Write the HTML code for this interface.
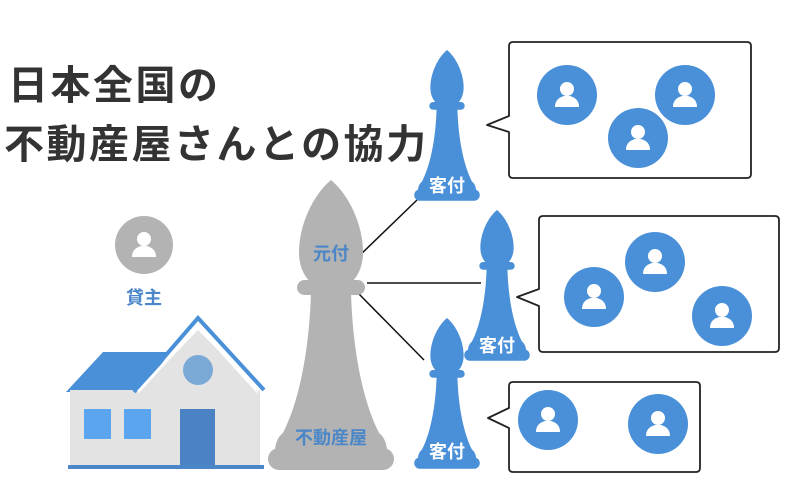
<!DOCTYPE html>
<html><head><meta charset="utf-8"><style>
html,body{margin:0;padding:0;background:#fff;}
svg{display:block;}
text{font-family:"Liberation Sans","Noto Sans CJK JP",sans-serif;font-weight:bold;}
</style></head><body>
<svg width="800" height="488" viewBox="0 0 800 488" xmlns="http://www.w3.org/2000/svg">
<defs>
<g id="bishop">
<path d="M0,0 C-18,15 -32,45 -32,72 C-32,90 -24,100 -18,104 L18,104 C24,100 32,90 32,72 C32,45 18,15 0,0 Z"/>
<rect x="-34" y="100" width="68" height="15" rx="7.5"/>
<path d="M-20,112 L20,112 C22,180 35,232 52,260 L-52,260 C-35,232 -22,180 -20,112Z"/>
<path d="M-56,272 C-56,256 -46,250 -40,250 L40,250 C46,250 56,256 56,272Z"/>
<rect x="-63" y="268" width="126" height="22" rx="11"/>
</g>
<g id="person">
<circle r="30" fill="#4a90d9"/>
<circle cx="0" cy="-6" r="7" fill="#fff"/>
<path d="M-12,12 C-12,4 -6,2 -3,1 L3,1 C6,2 12,4 12,12Z" fill="#fff"/>
</g>
</defs>

<text x="8" y="99" font-size="40" fill="#333" letter-spacing="2.5" style="font-weight:600">日本全国の</text>
<text x="4" y="158" font-size="40" fill="#333" letter-spacing="2.5" style="font-weight:600">不動産屋さんとの協力</text>

<g stroke="#111" stroke-width="1.5">
<line x1="357" y1="258" x2="417" y2="200"/>
<line x1="367" y1="283" x2="481" y2="283"/>
<line x1="357" y1="292" x2="424" y2="360"/>
</g>

<g fill="#b3b3b3" transform="translate(331,180)"><use href="#bishop"/></g>
<text x="331" y="260" font-size="18" fill="#4a86c8" text-anchor="middle">元付</text>
<text x="331" y="444" font-size="18" fill="#4a86c8" text-anchor="middle">不動産屋</text>

<g fill="#4a90d9" transform="translate(447,50) scale(0.52)"><use href="#bishop"/></g>
<text x="447" y="192" font-size="18" fill="#fff" text-anchor="middle">客付</text>
<g fill="#4a90d9" transform="translate(497,210) scale(0.52)"><use href="#bishop"/></g>
<text x="497" y="352" font-size="18" fill="#fff" text-anchor="middle">客付</text>
<g fill="#4a90d9" transform="translate(447,318) scale(0.52)"><use href="#bishop"/></g>
<text x="447" y="458" font-size="18" fill="#fff" text-anchor="middle">客付</text>

<g fill="#fff" stroke="#222" stroke-width="1.8" stroke-linejoin="round">
<path d="M513,42 L747,42 Q751,42 751,46 L751,174 Q751,178 747,178 L513,178 Q509,178 509,174 L509,132 L487,125 L509,116 L509,46 Q509,42 513,42Z"/>
<path d="M543,216 L775,216 Q779,216 779,220 L779,348 Q779,352 775,352 L543,352 Q539,352 539,348 L539,306 L517,297 L539,289 L539,220 Q539,216 543,216Z"/>
<path d="M513,382 L696,382 Q700,382 700,386 L700,468 Q700,472 696,472 L513,472 Q509,472 509,468 L509,428 L488,418 L509,408 L509,386 Q509,382 513,382Z"/>
</g>
<use href="#person" x="567" y="95"/>
<use href="#person" x="685" y="95"/>
<use href="#person" x="638" y="138"/>
<use href="#person" x="655" y="262"/>
<use href="#person" x="594" y="297"/>
<use href="#person" x="722" y="316"/>
<use href="#person" x="548" y="420"/>
<use href="#person" x="658" y="424"/>

<circle cx="144" cy="245" r="29" fill="#b3b3b3"/>
<circle cx="144" cy="239" r="7" fill="#fff"/>
<path d="M132,257 C132,249 138,247 141,246 L147,246 C150,247 156,249 156,257Z" fill="#fff"/>
<text x="144" y="304" font-size="18" fill="#4a86c8" text-anchor="middle">貸主</text>

<polygon points="66,392 103,352 170,352 142,392" fill="#4a90d9"/>
<rect x="70" y="390" width="190" height="75" fill="#e3e3e3"/>
<polygon points="140,390 198,330 258,390" fill="#e3e3e3"/>
<polyline points="134,392 198,318 264,390" fill="none" stroke="#4a90d9" stroke-width="4"/>
<polyline points="138,392 198,326 258,392" fill="none" stroke="#fff" stroke-width="3"/>
<circle cx="198" cy="370" r="15" fill="#7aa9d6"/>
<rect x="84" y="409" width="27" height="30" fill="#5aa5ee"/>
<rect x="124" y="409" width="27" height="30" fill="#5aa5ee"/>
<rect x="180" y="409" width="35" height="57" fill="#4a82c4"/>
<rect x="68" y="465" width="196" height="4" fill="#4a86c8"/>
</svg>
</body></html>
